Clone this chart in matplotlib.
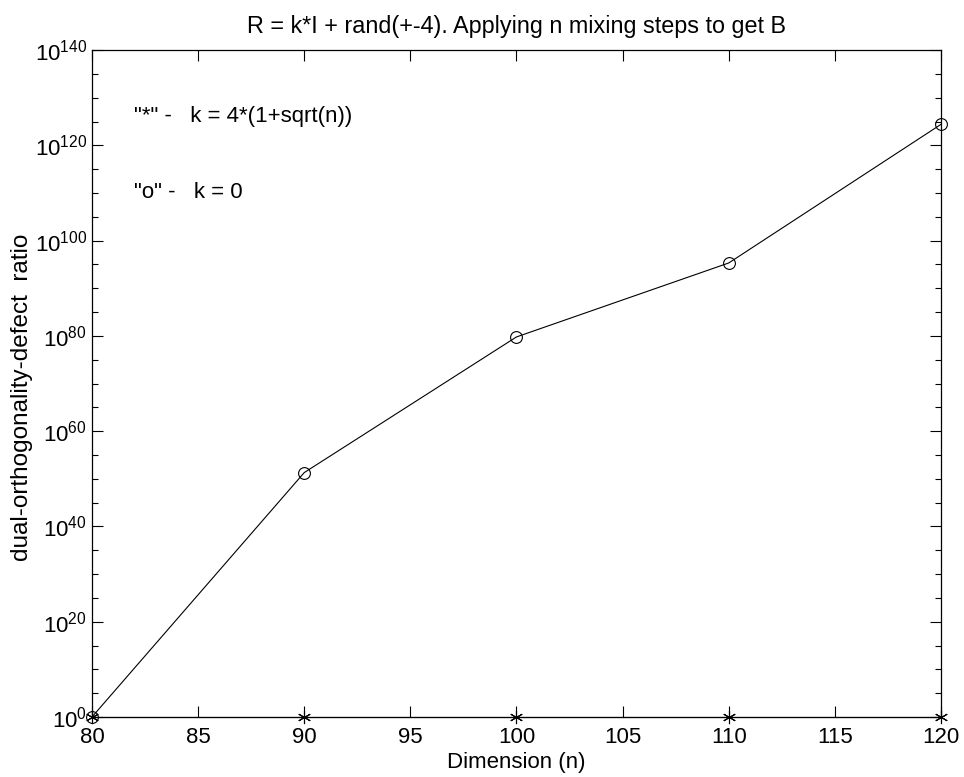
import numpy as np
import matplotlib
matplotlib.use('Agg')
import matplotlib.pyplot as plt
from matplotlib.ticker import FixedLocator, NullFormatter, LogFormatterSciNotation

plt.rcParams['font.family'] = 'Liberation Sans'
plt.rcParams['mathtext.fontset'] = 'custom'
plt.rcParams['mathtext.rm'] = 'Liberation Sans'
plt.rcParams['mathtext.it'] = 'Liberation Sans:italic'
plt.rcParams['font.size'] = 16

# data
dims = [80, 90, 100, 110, 120]
ratio_k0 = [1e0, 2e51, 6e79, 2e95, 2.5e124]      # "o"
ratio_k_sqrt = [1e0, 1e0, 1e0, 1e0, 1e0]          # "*"

fig = plt.figure(figsize=(9.64, 7.77), dpi=100)
ax = fig.add_axes([0.0954, 0.0772, 0.8807, 0.8584])

ax.plot(dims, ratio_k0, 'k-', marker='o', mfc='none', ms=8.5, lw=0.8, mew=0.8, clip_on=False)
ax.plot(dims, ratio_k_sqrt, 'k-', marker=(6, 2, 0), ms=9.5, lw=0.8, mew=0.8, clip_on=False)

ax.set_yscale('log')
ax.set_xlim(80, 120)
ax.set_ylim(1e0, 1e140)
ax.set_xticks(range(80, 121, 5))
ax.yaxis.set_major_locator(FixedLocator([10.0 ** k for k in range(0, 141, 20)]))
ax.yaxis.set_minor_locator(FixedLocator([10.0 ** k for k in range(0, 141, 5) if k % 20]))
ax.yaxis.set_major_formatter(LogFormatterSciNotation())
ax.yaxis.set_minor_formatter(NullFormatter())

ax.tick_params(which='both', direction='in', top=True, right=True, width=0.8, labelsize=16)
ax.tick_params(which='major', length=8)
ax.tick_params(which='minor', length=4)
ax.tick_params(axis='x', pad=7)
ax.tick_params(axis='y', pad=3.5)
for s in ax.spines.values():
    s.set_linewidth(0.9)

ax.text(82, 1e126, '"*" -   k = 4*(1+sqrt(n))', va='center', ha='left')
ax.text(82, 1e110, '"o" -   k = 0', va='center', ha='left')

ax.set_title('R = k*I + rand(+-4). Applying n mixing steps to get B', fontsize=16.8, pad=12)
ax.set_xlabel('Dimension (n)', fontsize=16)
ax.set_ylabel('dual-orthogonality-defect  ratio', fontsize=17.5)
ax.xaxis.set_label_coords(0.5, -0.052)
ax.yaxis.set_label_coords(-0.069, 0.48)

fig.savefig('out.png', dpi=100, facecolor='white')
